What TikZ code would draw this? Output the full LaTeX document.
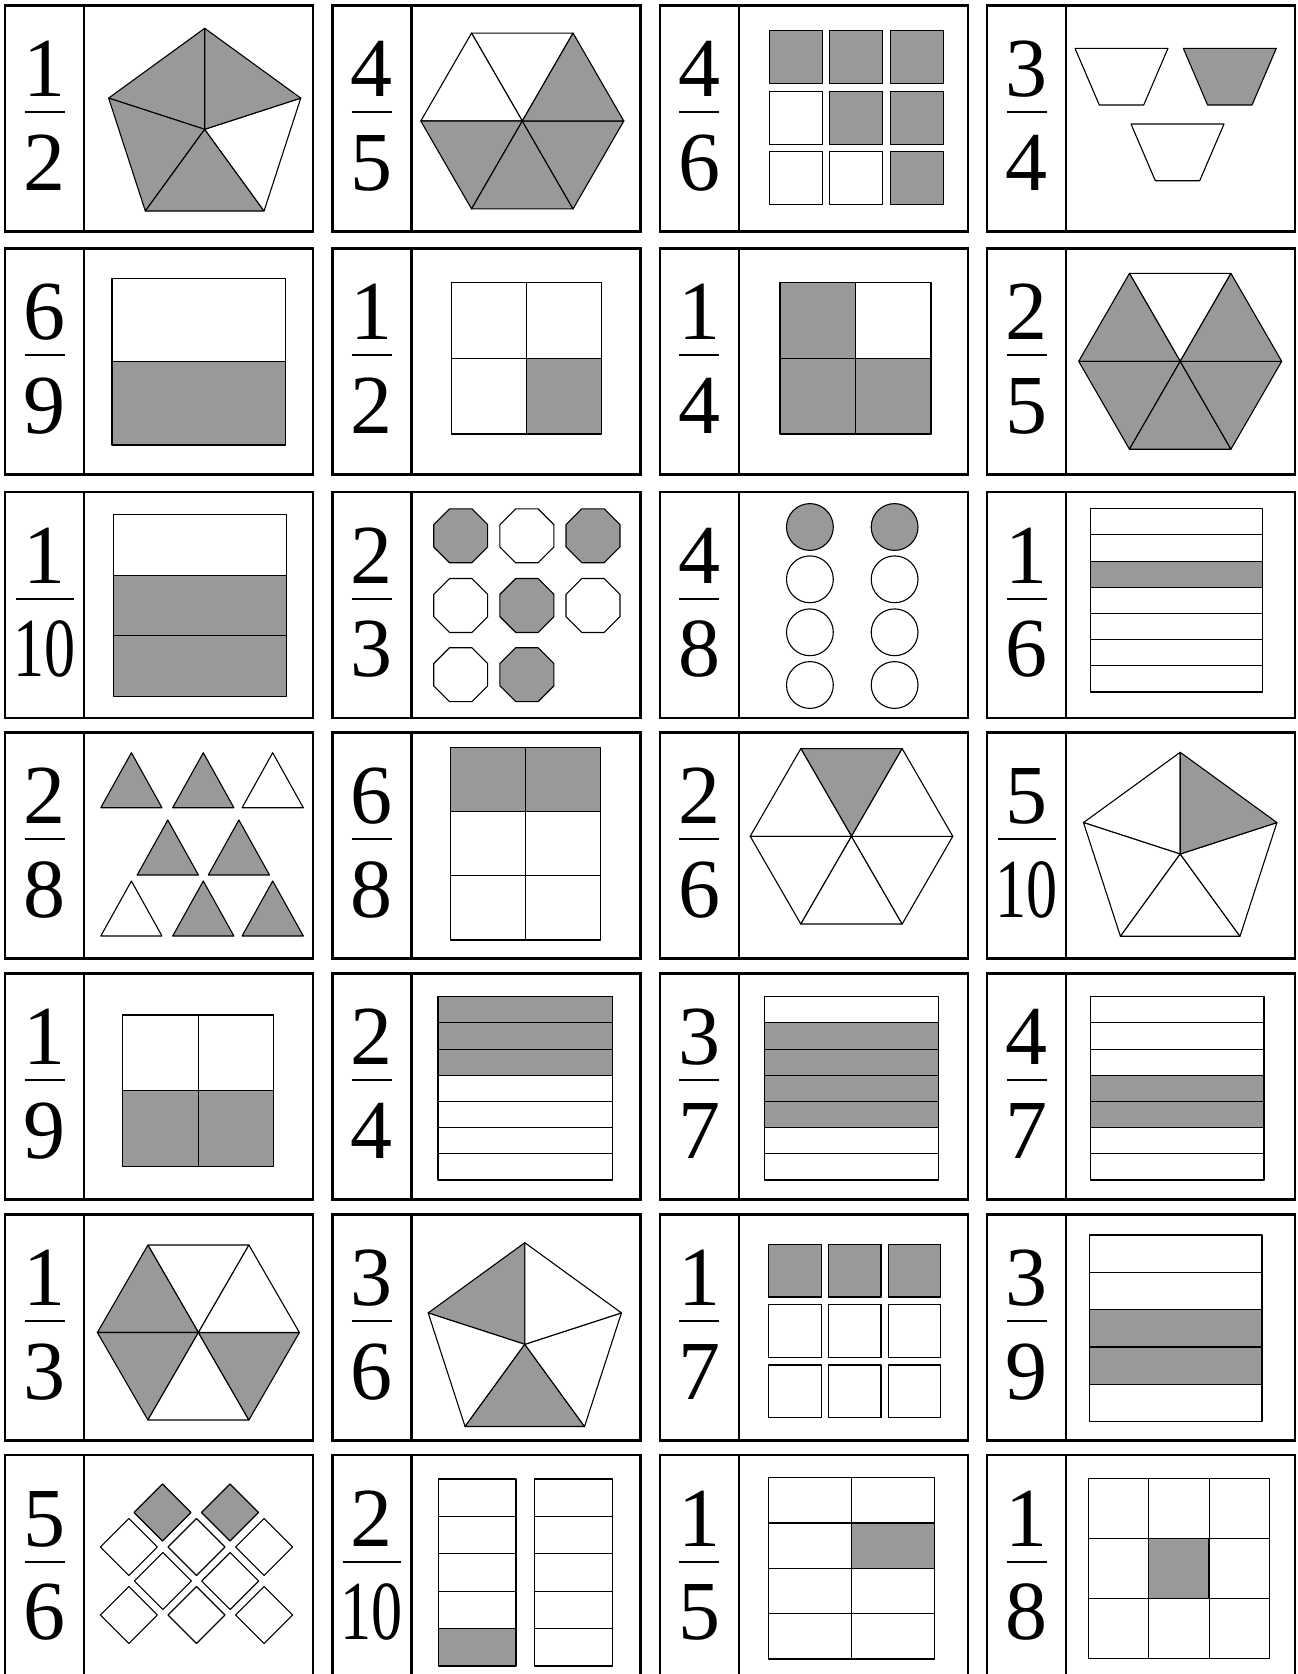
\documentclass[tikz,border=0pt]{standalone}
\usepackage{fontspec}
\setmainfont{Liberation Serif}
\usepackage{graphicx}
\definecolor{sh}{RGB}{153,153,153}
\colorlet{wh}{white}
\newcommand\tenx{\scalebox{0.74}[1]{10}}
\begin{document}
\begin{tikzpicture}[x=1pt,y=-1pt,
  frame/.style={draw=black,line width=2.4pt},
  part/.style={draw=black,line width=1.1pt,line join=round},
  fracbar/.style={draw=black,line width=2pt},
  digit/.style={inner sep=0pt,anchor=base,font=\fontsize{84}{84}\selectfont},
  pics/penta/.style n args={6}{code={
    \path[part,fill=#2] (0,0) -- (90:#1pt) -- (162:#1pt) -- cycle;
    \path[part,fill=#3] (0,0) -- (162:#1pt) -- (234:#1pt) -- cycle;
    \path[part,fill=#4] (0,0) -- (234:#1pt) -- (306:#1pt) -- cycle;
    \path[part,fill=#5] (0,0) -- (306:#1pt) -- (18:#1pt) -- cycle;
    \path[part,fill=#6] (0,0) -- (18:#1pt) -- (90:#1pt) -- cycle;
  }},
  pics/hexa/.style n args={7}{code={
    \path[part,fill=#2] (0,0) -- (60:#1pt) -- (120:#1pt) -- cycle;
    \path[part,fill=#3] (0,0) -- (120:#1pt) -- (180:#1pt) -- cycle;
    \path[part,fill=#4] (0,0) -- (180:#1pt) -- (240:#1pt) -- cycle;
    \path[part,fill=#5] (0,0) -- (240:#1pt) -- (300:#1pt) -- cycle;
    \path[part,fill=#6] (0,0) -- (300:#1pt) -- (360:#1pt) -- cycle;
    \path[part,fill=#7] (0,0) -- (0:#1pt) -- (60:#1pt) -- cycle;
  }},
  pics/octa/.style={code={
    \path[part,fill=#1] (22.5:29.2pt) -- (67.5:29.2pt) -- (112.5:29.2pt) -- (157.5:29.2pt)
      -- (202.5:29.2pt) -- (247.5:29.2pt) -- (292.5:29.2pt) -- (337.5:29.2pt) -- cycle;
  }},
  pics/tri/.style={code={
    \path[part,fill=#1] (0,0) -- (61.2,0) -- (30.6,-55) -- cycle;
  }},
  pics/trap/.style={code={
    \path[part,fill=#1] (0,0) -- (93,0) -- (68.7,56.7) -- (24.3,56.7) -- cycle;
  }},
  pics/diam/.style={code={
    \path[part,fill=#1] (0,-28.5) -- (28.5,0) -- (0,28.5) -- (-28.5,0) -- cycle;
  }},
]
\useasboundingbox (0,0) rectangle (1298,1674);
\clip (0,0) rectangle (1298,1674);
\fill[white] (0,0) rectangle (1298,1674);

% ---------- row 1 ----------
\pic at (204.7,129.3) {penta={101}{sh}{sh}{sh}{wh}{sh}};
\pic at (522.3,121) {hexa={101.5}{wh}{wh}{sh}{sh}{sh}{sh}};
\foreach \i/\j/\f in {0/0/sh,1/0/sh,2/0/sh,0/1/wh,1/1/sh,2/1/sh,0/2/wh,1/2/wh,2/2/sh}
  \path[part,fill=\f] ({769.3+60.5*\i},{30.7+60.5*\j}) rectangle ++(53,53);
\pic at (1075,48.3) {trap=wh};
\pic at (1183.3,48.3) {trap=sh};
\pic at (1131,124) {trap=wh};

% ---------- row 2 ----------
\path[part,fill=wh] (112,278.3) rectangle (285.6,361.7);
\path[part,fill=sh] (112,361.7) rectangle (285.6,445);
\path[part,fill=wh] (451.2,282.7) rectangle (526.5,358.3);
\path[part,fill=wh] (526.5,282.7) rectangle (601.8,358.3);
\path[part,fill=wh] (451.2,358.3) rectangle (526.5,434);
\path[part,fill=sh] (526.5,358.3) rectangle (601.8,434);
\path[part,fill=sh] (780,282.7) rectangle (855.3,358.3);
\path[part,fill=wh] (855.3,282.7) rectangle (931,358.3);
\path[part,fill=sh] (780,358.3) rectangle (855.3,434);
\path[part,fill=sh] (855.3,358.3) rectangle (931,434);
\pic at (1180.2,361.3) {hexa={101.5}{wh}{sh}{sh}{sh}{sh}{sh}};

% ---------- row 3 ----------
\path[part,fill=wh] (113.2,514.7) rectangle (286.8,575.3);
\path[part,fill=sh] (113.2,575.3) rectangle (286.8,635.7);
\path[part,fill=sh] (113.2,635.7) rectangle (286.8,696.3);
\foreach \px/\py/\f in {460.7/535.8/sh,526.9/535.8/wh,593/535.8/sh,
                        460.7/605.5/wh,526.9/605.5/sh,593/605.5/wh,
                        460.7/674.7/wh,526.9/674.7/sh}
  \pic at (\px,\py) {octa=\f};
\foreach \px/\py/\f in {809.9/527/sh,894.6/527/sh,809.9/579.3/wh,894.6/579.3/wh,
                        809.9/632.3/wh,894.6/632.3/wh,809.9/685/wh,894.6/685/wh}
  \path[part,fill=\f] (\px,\py) circle[radius=23.4];
\foreach \k/\f in {0/wh,1/wh,2/sh,3/wh,4/wh,5/wh,6/wh}
  \path[part,fill=\f] (1090.9,{508.7+26.19*\k}) rectangle (1262.8,{508.7+26.19*(\k+1)});

% ---------- row 4 ----------
\foreach \px/\py/\f in {100.8/807.7/sh,172.7/807.7/sh,242.1/807.7/wh,
                        137.2/875/sh,208.3/875/sh,
                        100.8/936/wh,172.7/936/sh,242.1/936/sh}
  \pic at (\px,\py) {tri=\f};
\path[part,fill=sh] (450.4,747.3) rectangle (525.6,811.3);
\path[part,fill=sh] (525.6,747.3) rectangle (600.8,811.3);
\path[part,fill=wh] (450.4,811.3) rectangle (525.6,875.7);
\path[part,fill=wh] (525.6,811.3) rectangle (600.8,875.7);
\path[part,fill=wh] (450.4,875.7) rectangle (525.6,940);
\path[part,fill=wh] (525.6,875.7) rectangle (600.8,940);
\pic at (851.5,836.3) {hexa={101.3}{sh}{wh}{wh}{wh}{wh}{wh}};
\pic at (1180.2,854) {penta={101.7}{wh}{wh}{wh}{wh}{sh}};

% ---------- row 5 ----------
\path[part,fill=wh] (122.3,1015) rectangle (198.3,1090.7);
\path[part,fill=wh] (198.3,1015) rectangle (273.6,1090.7);
\path[part,fill=sh] (122.3,1090.7) rectangle (198.3,1166.7);
\path[part,fill=sh] (198.3,1090.7) rectangle (273.6,1166.7);
\foreach \k/\f in {0/sh,1/sh,2/sh,3/wh,4/wh,5/wh,6/wh}
  \path[part,fill=\f] (438,{996.7+26.19*\k}) rectangle (612.4,{996.7+26.19*(\k+1)});
\foreach \k/\f in {0/wh,1/sh,2/sh,3/sh,4/sh,5/wh,6/wh}
  \path[part,fill=\f] (764.5,{996.7+26.19*\k}) rectangle (938.3,{996.7+26.19*(\k+1)});
\foreach \k/\f in {0/wh,1/wh,2/wh,3/sh,4/sh,5/wh,6/wh}
  \path[part,fill=\f] (1090.9,{996.7+26.19*\k}) rectangle (1264,{996.7+26.19*(\k+1)});

% ---------- row 6 ----------
\pic at (198.4,1332.5) {hexa={101}{wh}{sh}{sh}{wh}{sh}{wh}};
\pic at (524.8,1344.3) {penta={101.6}{sh}{wh}{sh}{wh}{wh}};
\foreach \i/\j/\f in {0/0/sh,1/0/sh,2/0/sh,0/1/wh,1/1/wh,2/1/wh,0/2/wh,1/2/wh,2/2/wh}
  \path[part,fill=\f] ({768.6+59.9*\i},{1244.3+60.35*\j}) rectangle ++(52.5,52.7);
\foreach \k/\f in {0/wh,1/wh,2/sh,3/sh,4/wh}
  \path[part,fill=\f] (1089.3,{1235+37.34*\k}) rectangle (1262,{1235+37.34*(\k+1)});

% ---------- row 7 ----------
\foreach \px/\py/\f in {162.5/1512.5/sh,230/1512.5/sh,
                        128.8/1547/wh,196.5/1547/wh,264.1/1547/wh,
                        162.9/1581/wh,230.2/1581/wh,
                        128.8/1615/wh,196.5/1615/wh,264.1/1615/wh}
  \pic at (\px,\py) {diam=\f};
\foreach \k/\f in {0/wh,1/wh,2/wh,3/wh,4/sh}
  \path[part,fill=\f] (438.1,{1479+37.4*\k}) rectangle (516,{1479+37.4*(\k+1)});
\foreach \k in {0,...,4}
  \path[part,fill=wh] (534.5,{1479+37.4*\k}) rectangle (612.4,{1479+37.4*(\k+1)});
\foreach \j [evaluate=\j as \ya using {1477.7+45.33*\j}] in {0,...,3}{
  \path[part,fill=wh] (768.4,\ya) rectangle ++(82.9,45.33);
  \path[part,fill=wh] (851.3,\ya) rectangle ++(83.3,45.33);
}
\path[part,fill=sh] (851.3,1523) rectangle (934.6,1568.3);
\foreach \i in {0,1,2}
  \foreach \j in {0,1,2}
    \path[part,fill=wh] ({1088.7+60.17*\i},{1478.7+59.87*\j}) rectangle ++(60.17,59.87);
\path[part,fill=sh] (1148.9,1538.6) rectangle (1209,1598.4);

% ---------- card frames ----------
\foreach \r in {0,...,6}{
  \pgfmathsetmacro\yt{{5.5,248.5,492,732.5,973.5,1214.5,1455}[\r]}
  \foreach \c in {0,...,3}{
    \pgfmathsetmacro\xl{5+327.4*\c}
    \draw[frame] (\xl,\yt) rectangle ++(308,226);
    \draw[frame] ({\xl+79},\yt) -- ++(0,226);
  }
}

% ---------- fractions ----------
\foreach \r/\c/\fn/\fd/\w in {
  0/0/1/2/20, 0/1/4/5/20, 0/2/4/6/20, 0/3/3/4/20,
  1/0/6/9/20, 1/1/1/2/20, 1/2/1/4/20, 1/3/2/5/20,
  2/0/1/\tenx/29, 2/1/2/3/20, 2/2/4/8/20, 2/3/1/6/20,
  3/0/2/8/20, 3/1/6/8/20, 3/2/2/6/20, 3/3/5/\tenx/29,
  4/0/1/9/20, 4/1/2/4/20, 4/2/3/7/20, 4/3/4/7/20,
  5/0/1/3/20, 5/1/3/6/20, 5/2/1/7/20, 5/3/3/9/20,
  6/0/5/6/20, 6/1/2/\tenx/29, 6/2/1/5/20, 6/3/1/8/20}{
  \pgfmathsetmacro\yt{{5.5,248.5,492,732.5,973.5,1214.5,1455}[\r]}
  \pgfmathsetmacro\xm{5+327.4*\c+39.5}
  \node[digit] (n\r\c) at (\xm,{\yt+91}) {\fn};
  \node[digit] (d\r\c) at (\xm,{\yt+184.5}) {\fd};
  \draw[fracbar] ({\xm-\w},{\yt+106.5}) -- ({\xm+\w},{\yt+106.5});
}
\end{tikzpicture}
\end{document}
